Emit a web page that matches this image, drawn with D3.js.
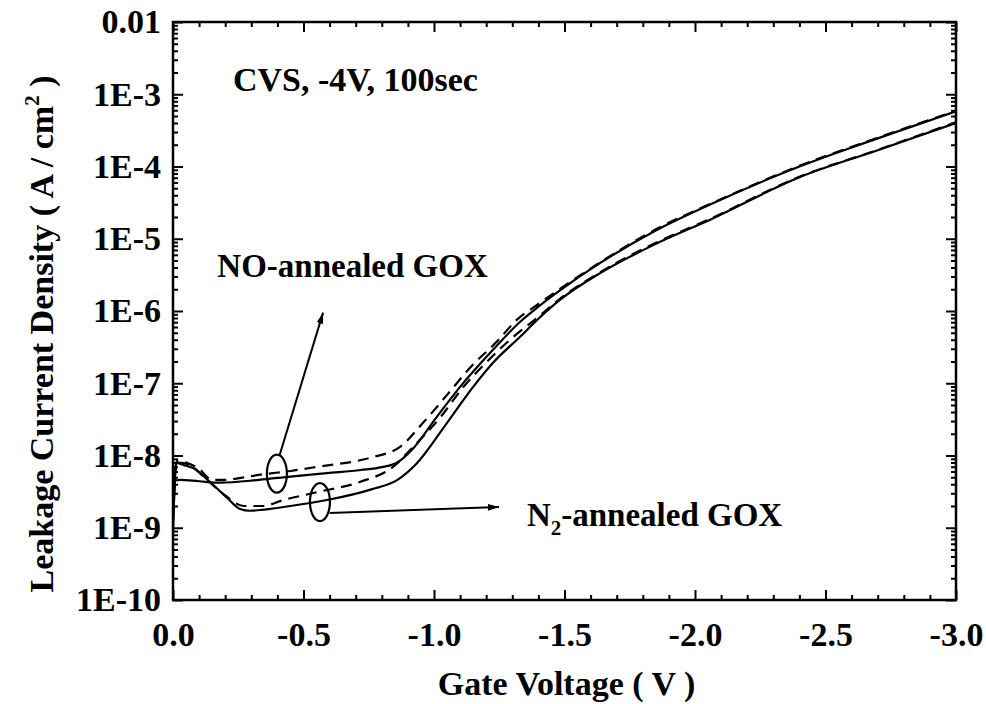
<!DOCTYPE html>
<html><head><meta charset="utf-8">
<script src="https://cdn.jsdelivr.net/npm/d3@7"></script>
<style>body{margin:0;background:#fff}svg{display:block}text{font-family:"Liberation Serif","Times New Roman",serif;font-weight:bold;fill:#000}</style>
</head><body><svg id="c" width="986" height="704"></svg>
<script>
// ---- data ----
const xTicks = [0, -0.5, -1.0, -1.5, -2.0, -2.5, -3.0];
const xTickLabels = ["0.0", "-0.5", "-1.0", "-1.5", "-2.0", "-2.5", "-3.0"];
const yTicks = [1e-2, 1e-3, 1e-4, 1e-5, 1e-6, 1e-7, 1e-8, 1e-9, 1e-10];
const yTickLabels = ["0.01", "1E-3", "1E-4", "1E-5", "1E-6", "1E-7", "1E-8", "1E-9", "1E-10"];

// NO-annealed GOX, solid
const noSolid = [[0,1.0e-9],[-0.01,4.5e-9],[-0.027,4.6e-9],[-0.1,4.4e-9],[-0.18,4.2e-9],[-0.33,4.6e-9],[-0.45,5.1e-9],[-0.59,5.7e-9],[-0.72,6.3e-9],[-0.80,6.9e-9],[-0.86,8.0e-9],[-0.92,1.25e-8],[-1.01,3.4e-8],[-1.10,8.9e-8],[-1.226,2.9e-7],[-1.33,7.1e-7],[-1.40,1.15e-6],[-1.48,1.9e-6],[-1.64,4.7e-6],[-1.85,1.3e-5],[-2.06,3.0e-5],[-2.4,1.0e-4],[-2.7,2.45e-4],[-3.0,5.8e-4]];
// NO-annealed GOX, dashed
const noDashed = [[0,2e-9],[-0.015,8.5e-9],[-0.05,8.0e-9],[-0.1,6.5e-9],[-0.15,4.6e-9],[-0.2,4.6e-9],[-0.26,4.9e-9],[-0.33,5.4e-9],[-0.45,6.1e-9],[-0.55,6.95e-9],[-0.755,9.3e-9],[-0.87,1.32e-8],[-0.958,2.83e-8],[-1.05,6.9e-8],[-1.138,1.64e-7],[-1.241,3.77e-7],[-1.318,7.6e-7],[-1.40,1.25e-6],[-1.48,2.0e-6],[-1.64,4.8e-6],[-1.85,1.35e-5],[-2.06,3.05e-5],[-2.4,1.02e-4],[-2.7,2.5e-4],[-3.0,5.9e-4]];
// N2-annealed GOX, solid
const n2Solid = [[0,1.0e-9],[-0.012,7.9e-9],[-0.05,7.2e-9],[-0.077,6.7e-9],[-0.142,4.3e-9],[-0.207,2.6e-9],[-0.257,1.82e-9],[-0.295,1.72e-9],[-0.333,1.76e-9],[-0.45,2.0e-9],[-0.59,2.42e-9],[-0.76,3.4e-9],[-0.86,4.6e-9],[-0.93,7.5e-9],[-1.05,2.83e-8],[-1.15,8.9e-8],[-1.226,1.92e-7],[-1.33,4.4e-7],[-1.40,7.8e-7],[-1.48,1.4e-6],[-1.64,3.4e-6],[-1.85,8.5e-6],[-2.06,1.85e-5],[-2.4,7.1e-5],[-2.7,1.68e-4],[-3.0,4.0e-4]];
// N2-annealed GOX, dashed
const n2Dashed = [[0,1.5e-9],[-0.015,8.0e-9],[-0.06,7.5e-9],[-0.12,5.0e-9],[-0.2,2.8e-9],[-0.27,2.0e-9],[-0.345,2.0e-9],[-0.42,2.4e-9],[-0.55,3.1e-9],[-0.716,4.3e-9],[-0.843,6.95e-9],[-0.92,1.32e-8],[-1.023,3.33e-8],[-1.11,8.65e-8],[-1.203,1.99e-7],[-1.291,4.0e-7],[-1.40,8.3e-7],[-1.48,1.45e-6],[-1.64,3.5e-6],[-1.85,8.8e-6],[-2.06,1.9e-5],[-2.4,7.2e-5],[-2.7,1.7e-4],[-3.0,4.1e-4]];

// ---- layout ----
const L = 173, R = 956, T = 22, B = 600;
const FS = 34;
const svg = d3.select("#c");
const x = d3.scaleLinear().domain([0, -3]).range([L, R]);
const y = d3.scaleLog().domain([1e-10, 1e-2]).range([B, T]);

// minor ticks
const xMinor = d3.range(0, 31).map(i => -i / 10).filter(v => Math.abs(v * 2 - Math.round(v * 2)) > 1e-6);
const yMinor = [];
for (let e = -10; e < -2; e++) for (let m = 2; m <= 9; m++) yMinor.push(m * Math.pow(10, e));

const g = svg.append("g");
function tickAxis(axisFn, scale, vals, len, tx, ty) {
  const a = axisFn(scale).tickValues(vals).tickSizeInner(len).tickSizeOuter(0).tickFormat("");
  const gg = g.append("g").attr("transform", `translate(${tx},${ty})`).call(a);
  gg.select(".domain").remove();
  gg.selectAll("line").attr("stroke", "#000").attr("stroke-width", 2);
}
// bottom and top (inward)
tickAxis(d3.axisTop, x, xTicks, 10, 0, B);
tickAxis(d3.axisTop, x, xMinor, 5, 0, B);
tickAxis(d3.axisBottom, x, xTicks, 10, 0, T);
tickAxis(d3.axisBottom, x, xMinor, 5, 0, T);
// left and right (inward)
tickAxis(d3.axisRight, y, yTicks, 10, L, 0);
tickAxis(d3.axisRight, y, yMinor, 5, L, 0);
tickAxis(d3.axisLeft, y, yTicks, 10, R, 0);
tickAxis(d3.axisLeft, y, yMinor, 5, R, 0);

g.append("rect").attr("x", L).attr("y", T).attr("width", R - L).attr("height", B - T)
  .attr("fill", "none").attr("stroke", "#000").attr("stroke-width", 2.5);

// tick labels
const xl = d3.axisBottom(x).tickValues(xTicks).tickSize(0).tickPadding(0).tickFormat((d, i) => xTickLabels[i]);
const xg = svg.append("g").attr("transform", `translate(0,${B + 22})`).call(xl);
xg.select(".domain").remove();
xg.selectAll("text").attr("font-size", FS).attr("font-family", "Liberation Serif").attr("font-weight", "bold").attr("fill", "#000");
const yl = d3.axisLeft(y).tickValues(yTicks).tickSize(0).tickPadding(12).tickFormat((d, i) => yTickLabels[i]);
const yg = svg.append("g").attr("transform", `translate(${L},0)`).call(yl);
yg.select(".domain").remove();
yg.selectAll("text").attr("font-size", FS).attr("font-family", "Liberation Serif").attr("font-weight", "bold").attr("fill", "#000");

// axis titles
svg.append("text").attr("x", (L + R) / 2 + 2).attr("y", 695).attr("text-anchor", "middle").attr("font-size", FS)
  .text("Gate Voltage ( V )");
const yt = svg.append("text").attr("transform", `translate(53,334) rotate(-90)`)
  .attr("text-anchor", "middle").attr("font-size", FS);
yt.append("tspan").text("Leakage Current Density ( A / cm");
yt.append("tspan").attr("font-size", 21).attr("dy", -14).text("2");
yt.append("tspan").attr("dy", 14).text(" )");

// curves
const line = d3.line().x(d => x(d[0])).y(d => y(d[1])).curve(d3.curveMonotoneX);
svg.append("clipPath").attr("id", "pc").append("rect").attr("x", L).attr("y", T).attr("width", R - L).attr("height", B - T);
const curves = [
  { d: noSolid, dash: null },
  { d: noDashed, dash: "11,7" },
  { d: n2Solid, dash: null },
  { d: n2Dashed, dash: "11,7" }
];
svg.append("g").attr("clip-path", "url(#pc)").selectAll("path").data(curves).join("path")
  .attr("d", c => line(c.d)).attr("fill", "none").attr("stroke", "#000").attr("stroke-width", 2.2)
  .attr("stroke-dasharray", c => c.dash);

// annotations
svg.append("defs").append("marker").attr("id", "ah").attr("viewBox", "0 0 10 10").attr("refX", 10).attr("refY", 5)
  .attr("markerWidth", 11).attr("markerHeight", 11).attr("markerUnits", "userSpaceOnUse").attr("orient", "auto")
  .append("path").attr("d", "M0,2 L10,5 L0,8 Z").attr("fill", "#000");
const ell = [[-0.398, 5.6e-9], [-0.563, 2.27e-9]];
svg.selectAll("ellipse.a").data(ell).join("ellipse").attr("cx", d => x(d[0])).attr("cy", d => y(d[1]))
  .attr("rx", 10).attr("ry", 19).attr("fill", "none").attr("stroke", "#000").attr("stroke-width", 2.2);
const arrows = [[[-0.408, 1.0e-8], [-0.575, 9.5e-7]], [[-0.60, 1.6e-9], [-1.249, 1.94e-9]]];
svg.selectAll("line.ar").data(arrows).join("line").attr("x1", d => x(d[0][0])).attr("y1", d => y(d[0][1]))
  .attr("x2", d => x(d[1][0])).attr("y2", d => y(d[1][1])).attr("stroke", "#000").attr("stroke-width", 2)
  .attr("marker-end", "url(#ah)");

svg.append("text").attr("x", x(-0.23)).attr("y", y(1.1e-3)).attr("font-size", FS).text("CVS, -4V, 100sec");
svg.append("text").attr("x", x(-0.17)).attr("y", y(3.0e-6)).attr("font-size", 33).text("NO-annealed GOX");
const n2 = svg.append("text").attr("x", x(-1.356)).attr("y", y(1.05e-9)).attr("font-size", 33);
n2.append("tspan").text("N");
n2.append("tspan").attr("font-size", 21).attr("dy", 9).text("2");
n2.append("tspan").attr("dy", -9).text("-annealed GOX");
</script></body></html>
